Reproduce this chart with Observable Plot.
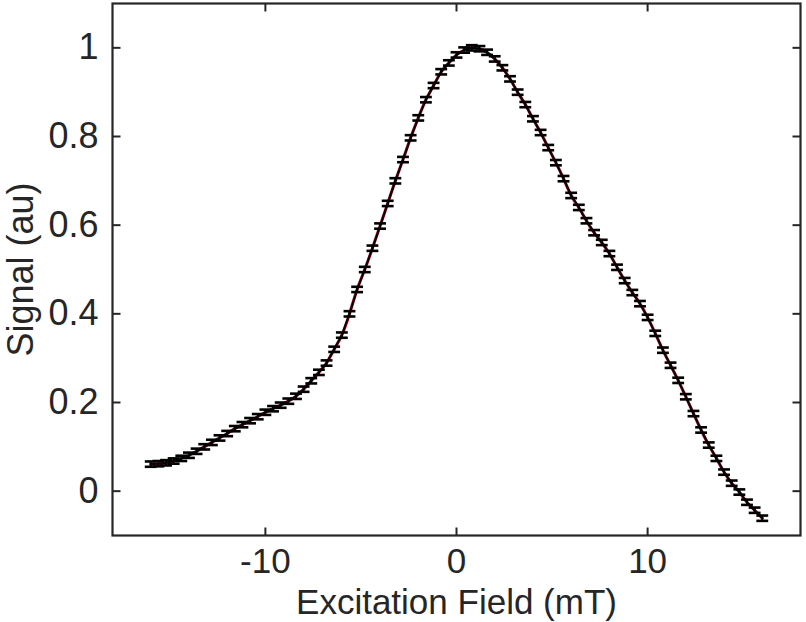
<!DOCTYPE html>
<html><head><meta charset="utf-8">
<script src="https://cdn.jsdelivr.net/npm/d3@7"></script>
<script src="https://cdn.jsdelivr.net/npm/@observablehq/plot@0.6"></script>
<style>body{margin:0;background:#fff;} #chart svg{display:block;}</style>
</head><body><div id="chart"></div>
<script>
const field = [-16.0,-15.6,-15.2,-14.8,-14.4,-14.0,-13.6,-13.2,-12.8,-12.4,-12.0,-11.6,-11.2,-10.8,-10.4,-10.0,-9.6,-9.2,-8.8,-8.4,-8.0,-7.6,-7.2,-6.8,-6.4,-6.0,-5.6,-5.2,-4.8,-4.4,-4.0,-3.6,-3.2,-2.8,-2.4,-2.0,-1.6,-1.2,-0.8,-0.4,0.0,0.4,0.8,1.2,1.6,2.0,2.4,2.8,3.2,3.6,4.0,4.4,4.8,5.2,5.6,6.0,6.4,6.8,7.2,7.6,8.0,8.4,8.8,9.2,9.6,10.0,10.4,10.8,11.2,11.6,12.0,12.4,12.8,13.2,13.6,14.0,14.4,14.8,15.2,15.6,16.0];
const signal = [0.061,0.062,0.064,0.068,0.074,0.081,0.090,0.100,0.110,0.120,0.130,0.141,0.150,0.159,0.168,0.178,0.186,0.194,0.203,0.214,0.230,0.249,0.268,0.289,0.320,0.352,0.400,0.455,0.500,0.548,0.598,0.649,0.700,0.748,0.797,0.842,0.883,0.915,0.946,0.966,0.984,0.995,1.000,0.998,0.990,0.975,0.955,0.930,0.900,0.872,0.840,0.809,0.775,0.741,0.705,0.667,0.640,0.610,0.583,0.561,0.536,0.505,0.475,0.448,0.423,0.392,0.356,0.318,0.284,0.250,0.213,0.175,0.138,0.104,0.074,0.043,0.018,-0.002,-0.025,-0.043,-0.061];
const signalError = 0.006;
const xTicks = [-10, 0, 10];
const yTicks = [0, 0.2, 0.4, 0.6, 0.8, 1];
const xLabel = "Excitation Field (mT)";
const yLabel = "Signal (au)";
const xDomain = [-18, 18];
const yDomain = [-0.1, 1.1];

const data = field.map((x, i) => ({x, y: signal[i]}));
const capHalf = 0.31;      // mT, cap half width
const tickLenX = 8 / 19.1; // inward tick length in x units
const tickLenY = 8 / 444;  // inward tick length in y units
const axisColor = "#262626";
const font = "'Liberation Sans', Arial, Helvetica, sans-serif";

const chart = Plot.plot({
  width: 806,
  height: 622,
  marginLeft: 112,
  marginRight: 6,
  marginTop: 3,
  marginBottom: 87,
  style: {fontFamily: font, background: "#fff", color: axisColor},
  x: {domain: xDomain},
  y: {domain: yDomain},
  marks: [
    Plot.line(data, {x: "x", y: "y", stroke: "#c8102e", strokeWidth: 3, curve: "natural"}),
    Plot.line(data, {x: "x", y: "y", stroke: "#000", strokeWidth: 2}),
    Plot.link(data, {x1: "x", x2: "x", y1: d => d.y - signalError, y2: d => d.y + signalError, stroke: "#000", strokeWidth: 2}),
    Plot.link(data, {x1: d => d.x - capHalf, x2: d => d.x + capHalf, y1: d => d.y + signalError, y2: d => d.y + signalError, stroke: "#000", strokeWidth: 2.6}),
    Plot.link(data, {x1: d => d.x - capHalf, x2: d => d.x + capHalf, y1: d => d.y - signalError, y2: d => d.y - signalError, stroke: "#000", strokeWidth: 2.6}),
    Plot.link(xTicks, {x1: d => d, x2: d => d, y1: yDomain[0], y2: yDomain[0] + tickLenY, stroke: axisColor, strokeWidth: 2}),
    Plot.link(xTicks, {x1: d => d, x2: d => d, y1: yDomain[1], y2: yDomain[1] - tickLenY, stroke: axisColor, strokeWidth: 2}),
    Plot.link(yTicks, {y1: d => d, y2: d => d, x1: xDomain[0], x2: xDomain[0] + tickLenX, stroke: axisColor, strokeWidth: 2}),
    Plot.link(yTicks, {y1: d => d, y2: d => d, x1: xDomain[1], x2: xDomain[1] - tickLenX, stroke: axisColor, strokeWidth: 2}),
    Plot.frame({stroke: axisColor, strokeWidth: 2.2}),
    Plot.axisX(xTicks, {tickSize: 0, tickPadding: 13, fontSize: 35, tickFormat: d => String(d), label: null}),
    Plot.axisY(yTicks, {tickSize: 0, tickPadding: 14, fontSize: 36, tickFormat: d => String(d), label: null}),
    Plot.text([xLabel], {text: d => d, frameAnchor: "bottom", lineAnchor: "middle", textAnchor: "middle", dy: 67, fontSize: 35, fill: axisColor}),
    Plot.text([yLabel], {text: d => d, frameAnchor: "left", lineAnchor: "middle", textAnchor: "middle", dx: -91, rotate: -90, fontSize: 36, fill: axisColor})
  ]
});
document.getElementById("chart").appendChild(chart);
</script>
</body></html>
